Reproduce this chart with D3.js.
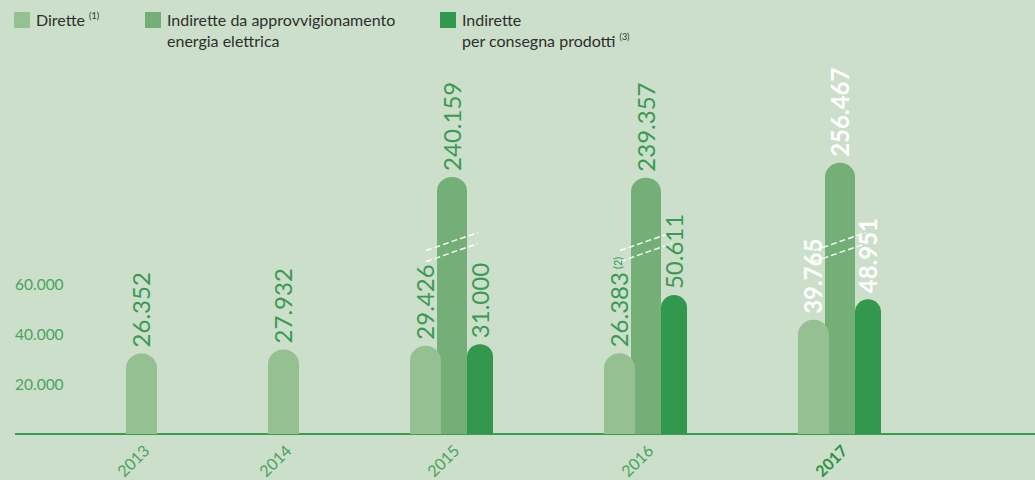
<!DOCTYPE html>
<html>
<head>
<meta charset="utf-8">
<script src="https://cdn.jsdelivr.net/npm/d3@7"></script>
<style>
  html, body { margin: 0; padding: 0; background: #cbdfca; }
  svg { display: block; }
  .legend text { font-family: Lato, "Open Sans", sans-serif; font-size: 16px; fill: #2e2e2e; }
  .tick-label { font-family: Lato, "Open Sans", sans-serif; font-size: 15.5px; fill: #4aa35e; }
  .year { font-family: Lato, "Open Sans", sans-serif; font-size: 16px; fill: #4aa35e; }
  .year.current { font-weight: bold; fill: #2f9148; }
  .value { font-family: "Liberation Sans Narrow", "Arial Narrow", Lato, sans-serif; font-size: 24px; fill: #3a9a52; }
  .value.current { fill: #ffffff; font-weight: bold; }
</style>
</head>
<body>
<svg id="chart" width="1035" height="480"></svg>
<script>
// Emissions per year (tCO2), Italian number format
const years = ["2013", "2014", "2015", "2016", "2017"];
const dirette = [26352, 27932, 29426, 26383, 39765];
const approvvigionamento = [null, null, 240159, 239357, 256467];
const consegna = [null, null, 31000, 50611, 48951];
const yTicks = [20000, 40000, 60000];
const currentYear = "2017";
const valueNotes = { "dirette-2016": "(2)" };

const seriesDefs = [
  { key: "dirette", label: ["Dirette"], note: "(1)", values: dirette, color: "#94c092", width: 31 },
  { key: "approvvigionamento", label: ["Indirette da approvvigionamento", "energia elettrica"], note: null, values: approvvigionamento, color: "#73af76", width: 30 },
  { key: "consegna", label: ["Indirette", "per consegna prodotti"], note: "(3)", values: consegna, color: "#32984d", width: 26 }
];

const W = 1035, H = 480;
const baseY = 434, axisLeft = 15;
const groupGap = 111;
const overlap = 4;      // middle bar slides slightly under the first one
const breakY = 247;     // where the axis break is marked on the tall bars

const svg = d3.select("#chart");

const it = d3.formatLocale({ decimal: ",", thousands: ".", grouping: [3], currency: ["€", ""] });
const fmt = it.format(",");

// Broken value scale: linear up to 60.000, compressed above the break
const y = d3.scaleLinear()
  .domain([0, 60000, 200000, 260000])
  .range([baseY, 284, 226, 174]);

// Horizontal layout: each year takes the width of the bars it actually has
const groups = years.map((yr, i) => {
  const bars = [];
  let off = 0;
  seriesDefs.forEach(s => {
    const v = s.values[i];
    if (v == null) return;
    if (bars.length && s.key === "approvvigionamento") off -= overlap;
    bars.push({ year: yr, key: s.key, value: v, color: s.color, w: s.width, off });
    off += s.width;
  });
  return { year: yr, bars, width: off };
});
let cursor = 0;
groups.forEach(g => { g.start = cursor; cursor += g.width + groupGap; });
const x = d3.scaleLinear().domain([0, cursor]).range([axisLeft + groupGap, axisLeft + groupGap + cursor]);

// Baseline
svg.append("line")
  .attr("x1", axisLeft).attr("x2", W)
  .attr("y1", baseY).attr("y2", baseY)
  .attr("stroke", "#3a9e50").attr("stroke-width", 2);

// Y tick labels
svg.selectAll(".tick-label").data(yTicks).join("text")
  .attr("class", "tick-label")
  .attr("x", axisLeft)
  .attr("y", d => y(d))
  .attr("dy", "0.36em")
  .text(d => fmt(d));

function barPath(x0, w, top) {
  const r = w / 2;
  return `M${x0},${baseY}L${x0},${top}A${r},${r * 0.95} 0 0 1 ${x0 + w},${top}L${x0 + w},${baseY}Z`;
}

// Draw order: tall middle bars first, the side bars overlap them
const order = ["approvvigionamento", "dirette", "consegna"];
const allBars = [];
groups.forEach(g => g.bars.forEach(b => { b.x0 = x(g.start + b.off); allBars.push(b); }));
allBars.sort((a, b) => order.indexOf(a.key) - order.indexOf(b.key));

const barG = svg.append("g");
barG.selectAll("path").data(allBars).join("path")
  .attr("d", b => barPath(b.x0, b.w, y(b.value)))
  .attr("fill", b => b.color);

// Break marks on bars beyond the linear part of the scale
const broken = allBars.filter(b => b.value > y.domain()[1]);
const brk = svg.append("g");
broken.forEach(b => {
  const cx = b.x0 + b.w / 2;
  [-5.5, 5.5].forEach(dy => {
    brk.append("line")
      .attr("x1", cx - 26).attr("y1", breakY + dy + 9)
      .attr("x2", cx + 26).attr("y2", breakY + dy - 9)
      .attr("stroke", "#ffffff").attr("stroke-width", 1.4)
      .attr("stroke-dasharray", "6,3");
  });
});

// Value labels, rotated above each bar
const lab = svg.append("g");
allBars.forEach(b => {
  const cx = b.x0 + b.w / 2;
  const top = y(b.value) - b.w / 2 * 0.95 - 6;
  const t = lab.append("text")
    .attr("class", "value" + (b.year === currentYear ? " current" : ""))
    .attr("transform", `translate(${cx},${top}) rotate(-90)`)
    .attr("dy", "0.36em")
    .text(fmt(b.value));
  const note = valueNotes[b.key + "-" + b.year];
  if (note) {
    t.append("tspan").attr("font-size", 11).attr("dx", 3).attr("dy", "-0.6em").text(note);
  }
});

// Year labels
svg.selectAll(".year").data(groups).join("text")
  .attr("class", d => "year" + (d.year === currentYear ? " current" : ""))
  .attr("text-anchor", "middle")
  .attr("transform", d => `translate(${x(d.start + d.width / 2) - 8},${461}) rotate(-45)`)
  .attr("dy", "0.35em")
  .text(d => d.year);

// Legend
const legendX = [14, 145, 440];
const leg = svg.append("g").attr("class", "legend");
seriesDefs.forEach((s, i) => {
  const g = leg.append("g").attr("transform", `translate(${legendX[i]},0)`);
  g.append("rect").attr("x", 0).attr("y", 12).attr("width", 16).attr("height", 16).attr("fill", s.color);
  s.label.forEach((line, j) => {
    const t = g.append("text").attr("x", 22).attr("y", 26 + j * 21).text(line);
    if (s.note && j === s.label.length - 1) {
      t.append("tspan").attr("font-size", 9).attr("dx", 4).attr("dy", -7).text(s.note);
    }
  });
});
</script>
</body>
</html>
